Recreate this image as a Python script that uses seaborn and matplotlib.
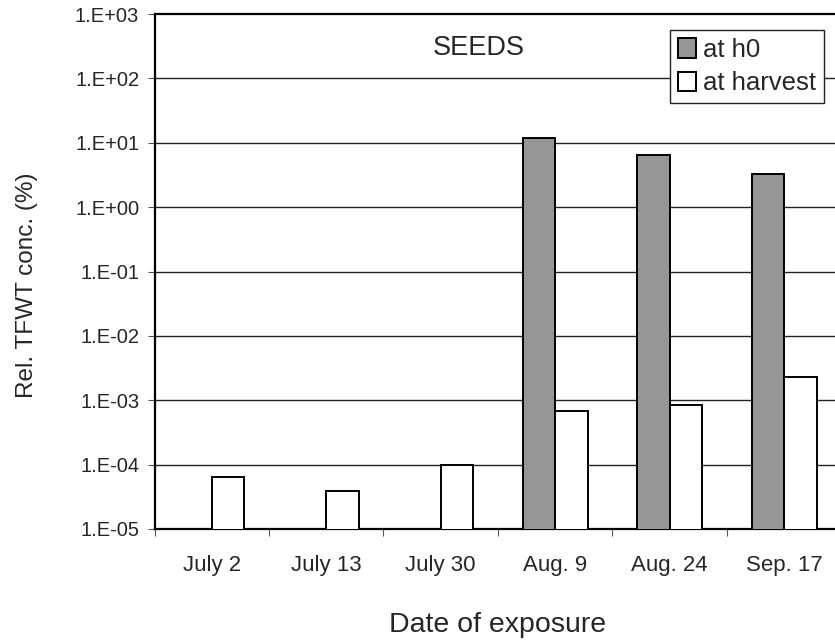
import numpy as np
import pandas as pd
import matplotlib
matplotlib.use("Agg")
import matplotlib.pyplot as plt
from matplotlib.ticker import FixedLocator, FixedFormatter
import seaborn as sns

# Exposure dates (categories)
dates = ["July 2", "July 13", "July 30", "Aug. 9", "Aug. 24", "Sep. 17"]
# Relative TFWT concentration (%) in seeds
at_h0 = [np.nan, np.nan, np.nan, 12.0, 6.5, 3.25]
at_harvest = [6.4e-5, 3.9e-5, 1.0e-4, 6.7e-4, 8.4e-4, 2.3e-3]
series_names = ["at h0", "at harvest"]

y_ticks = [1e-5, 1e-4, 1e-3, 1e-2, 1e-1, 1e0, 1e1, 1e2, 1e3]
y_tick_labels = ["1.E-05", "1.E-04", "1.E-03", "1.E-02", "1.E-01",
                 "1.E+00", "1.E+01", "1.E+02", "1.E+03"]

df = pd.DataFrame({
    "date": dates * 2,
    "value": at_h0 + at_harvest,
    "series": [series_names[0]] * len(dates) + [series_names[1]] * len(dates),
})

sns.set_theme(style="white")
plt.rcParams["font.family"] = ["Liberation Sans", "DejaVu Sans"]

W, H = 835, 642
fig = plt.figure(figsize=(W / 100, H / 100), dpi=100)
# plot area in pixels: x 154.5..841.4 (runs past the right edge), y 14..529
left, right, top, bottom = 154.5, 841.4, 14.0, 529.0
ax = fig.add_axes([left / W, 1 - bottom / H, (right - left) / W, (bottom - top) / H])
ax.set_yscale("log")

sns.barplot(data=df, x="date", y="value", hue="series", order=dates,
            hue_order=series_names, palette=["#969696", "#ffffff"],
            edgecolor="black", linewidth=1.4, width=0.57, dodge=True,
            errorbar=None, ax=ax, zorder=3)

ax.set_ylim(1e-5, 1e3)
ax.set_xlim(-0.5, len(dates) - 0.5)

# y axis: decade ticks with Excel-style labels and horizontal gridlines
ax.yaxis.set_major_locator(FixedLocator(y_ticks))
ax.yaxis.set_major_formatter(FixedFormatter(y_tick_labels))
ax.yaxis.set_minor_locator(FixedLocator([]))
for yv in y_ticks[1:-1]:
    ax.axhline(yv, color="#222222", lw=1.0, zorder=1)

# x axis: tick marks on category boundaries, labels at category centres
ax.xaxis.set_major_locator(FixedLocator(np.arange(-0.5, len(dates), 1.0)))
ax.xaxis.set_major_formatter(FixedFormatter([""] * (len(dates) + 1)))
ax.xaxis.set_minor_locator(FixedLocator(np.arange(len(dates))))
ax.xaxis.set_minor_formatter(FixedFormatter(dates))

ax.tick_params(axis="y", which="major", direction="out", length=5, width=0.8,
               color="#555555", labelsize=14.5, pad=6.0, left=True)
ax.tick_params(axis="x", which="major", direction="out", length=5, width=0.8,
               color="#555555", bottom=True)
ax.tick_params(axis="x", which="minor", length=0, labelsize=16, pad=18.5)

for side in ["left", "bottom", "top", "right"]:
    ax.spines[side].set_visible(True)
    ax.spines[side].set_color("black")
    ax.spines[side].set_linewidth(1.6)

ax.set_xlabel("Date of exposure", fontsize=20.5)
ax.xaxis.set_label_coords((498 - left) / (right - left), (bottom - 625) / (bottom - top))
ax.xaxis.label.set_va("center")
ax.set_ylabel("Rel. TFWT conc. (%)", fontsize=17.5)
ax.yaxis.set_label_coords((27 - left) / (right - left), (bottom - 285) / (bottom - top))
ax.yaxis.label.set_va("center")

ax.text((479 - left) / (right - left), (bottom - 48) / (bottom - top), "SEEDS",
        transform=ax.transAxes, ha="center", va="center", fontsize=19.5)

handles, labels = ax.get_legend_handles_labels()
leg = ax.legend(handles, labels, loc="upper left",
                bbox_to_anchor=((670 - left) / (right - left), (bottom - 30) / (bottom - top)),
                fontsize=18.5, frameon=True, fancybox=False, shadow=False,
                framealpha=1, edgecolor="#222222", borderpad=0.3,
                handlelength=0.72, handleheight=0.8, handletextpad=0.28,
                labelspacing=0.38, borderaxespad=0)
leg.get_frame().set_linewidth(1.0)
leg.set_zorder(5)

fig.savefig("out.png", dpi=100, facecolor="white")
